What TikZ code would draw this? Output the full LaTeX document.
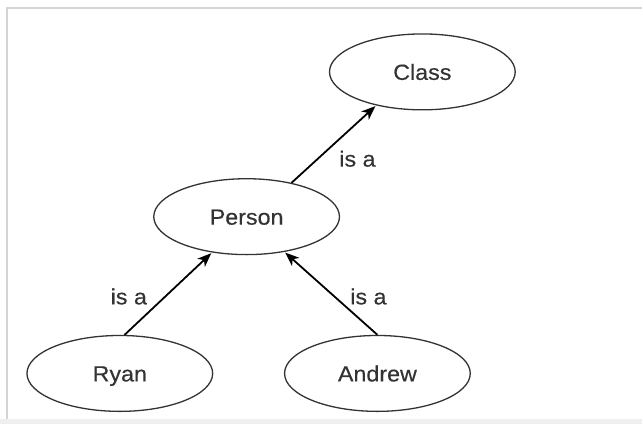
\documentclass[tikz,border=0pt]{standalone}
\usepackage{fontspec}
\setmainfont{Liberation Sans}[FakeStretch=1.06, FakeBold=0.4]
\usetikzlibrary{shapes.geometric,arrows.meta}
\definecolor{inkgray}{HTML}{333333}
\definecolor{framegray}{HTML}{D4D4D4}
\definecolor{bandgray}{HTML}{EFEFEF}
\begin{document}
\begin{tikzpicture}[x=1pt,y=-1pt,
  concept/.style={ellipse, draw=inkgray, line width=1.3pt, minimum width=186pt,
    minimum height=76pt, inner sep=0pt, text=inkgray, text height=17pt, text depth=1pt,
    font=\fontsize{22}{26}\selectfont},
  isa/.style={-{Stealth[length=14pt,width=11pt,inset=4pt]}, line width=1.8pt, black, shorten >=1pt},
  lbl/.style={text=inkgray, font=\fontsize{22}{26}\selectfont}]
  % canvas and frame
  \fill[white] (0,0) rectangle (643,425);
  \fill[bandgray] (0,420) rectangle (643,425);
  \draw[framegray, line width=2pt] (7,420) -- (7,8) -- (643,8);

  % class hierarchy
  \node[concept] (class)  at (423,72)  {Class};
  \node[concept] (person) at (247,217) {Person};
  \node[concept] (ryan)   at (120,374) {Ryan};
  \node[concept] (andrew) at (378,374) {Andrew};

  \draw[isa] (person.37) -- (class.216);
  \draw[isa] (ryan.83)   -- (person.226);
  \draw[isa] (andrew.90) -- (person.317);

  \node[lbl] (l1) at (358,159) {is a};
  \node[lbl] (l2) at (129,297) {is a};
  \node[lbl] (l3) at (369,297) {is a};
\end{tikzpicture}
\end{document}
